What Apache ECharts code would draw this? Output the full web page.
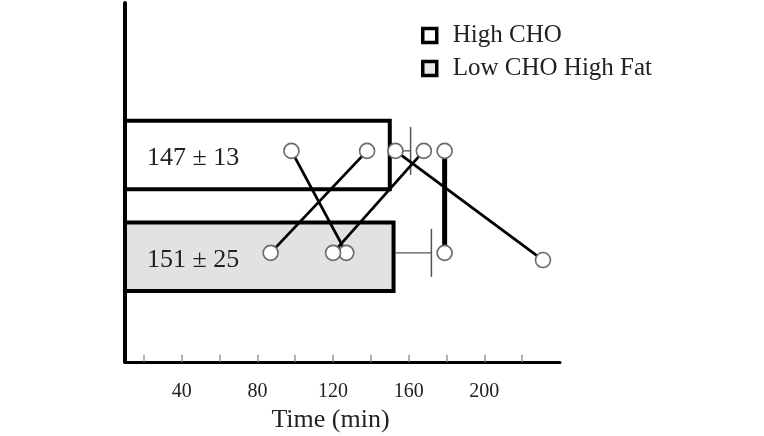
<!DOCTYPE html>
<html>
<head>
<meta charset="utf-8">
<script src="https://cdn.jsdelivr.net/npm/echarts@6/dist/echarts.min.js"></script>
<style>
html,body{margin:0;padding:0;background:#fff;}
#chart{width:764px;height:436px;}
</style>
</head>
<body>
<div id="chart"></div>
<script>
// ---- data ----
const rows = ['High CHO', 'Low CHO High Fat'];
const rowLevel = [2, 1];
const barMeans = [150, 152];
const errorEnds = [161, 172];
const barLabels = ['147 ± 13', '151 ± 25'];
const highCHO = [98, 138, 153, 168, 179];
const lowCHO = [127, 87, 231, 120, 179];
const lowLevel = [1, 1, 0.93, 1, 1];
const xTicks = [20, 40, 60, 80, 100, 120, 140, 160, 180, 200, 220];
const xLabels = [40, 80, 120, 160, 200];
const axisTitle = 'Time (min)';

// ---- styles ----
const SERIF = '"Liberation Serif", "DejaVu Serif", serif';
const barFills = ['#ffffff', '#e2e2e2'];
const thickSubject = 4;

function barSeries(i) {
  return {
    name: rows[i],
    type: 'custom',
    z: 2,
    itemStyle: { color: barFills[i], borderColor: '#000', borderWidth: 3 },
    data: [[barMeans[i], rowLevel[i], i]],
    renderItem: function (params, api) {
      const end = api.coord([api.value(0), api.value(1)]);
      const x0 = params.coordSys.x;
      const h = 68.5;
      const cy = end[1] + 4;
      const idx = api.value(2);
      return {
        type: 'group',
        children: [
          {
            type: 'rect',
            shape: { x: x0, y: cy - h / 2, width: end[0] - x0, height: h },
            style: { fill: barFills[idx], stroke: '#000', lineWidth: 4 }
          },
          {
            type: 'text',
            x: x0 + 22,
            y: cy + 3,
            style: {
              text: barLabels[idx],
              font: '26px ' + SERIF,
              fill: '#222',
              verticalAlign: 'middle'
            }
          }
        ]
      };
    }
  };
}

const series = [barSeries(0), barSeries(1)];

series.push({
  name: 'error',
  type: 'custom',
  z: 3,
  data: barMeans.map((m, i) => [m, errorEnds[i], rowLevel[i]]),
  renderItem: function (params, api) {
    const a = api.coord([api.value(0), api.value(2)]);
    const b = api.coord([api.value(1), api.value(2)]);
    const cap = 48;
    return {
      type: 'group',
      children: [
        { type: 'line', shape: { x1: a[0] + 2, y1: a[1], x2: b[0], y2: b[1] }, style: { stroke: '#555', lineWidth: 1.3 } },
        { type: 'line', shape: { x1: b[0], y1: b[1] - cap / 2, x2: b[0], y2: b[1] + cap / 2 }, style: { stroke: '#555', lineWidth: 1.5 } }
      ]
    };
  }
});

highCHO.forEach((h, i) => {
  series.push({
    name: 'subject' + (i + 1),
    type: 'line',
    z: 4,
    showSymbol: false,
    silent: true,
    lineStyle: { color: '#000', width: i === thickSubject ? 5 : 2.8 },
    data: [[h, rowLevel[0]], [lowCHO[i], lowLevel[i]]]
  });
});

const circles = highCHO.map(v => [v, rowLevel[0]]).concat(lowCHO.map((v, i) => [v, lowLevel[i]]));
series.push({
  name: 'individuals',
  type: 'scatter',
  z: 6,
  symbol: 'circle',
  symbolSize: 15,
  itemStyle: { color: '#fff', borderColor: '#6a6a6a', borderWidth: 1.6, opacity: 1 },
  data: circles
});

const chart = echarts.init(document.getElementById('chart'), null, { renderer: 'canvas' });
chart.setOption({
  animation: false,
  backgroundColor: '#fff',
  grid: { left: 125, right: 204, top: 3, bottom: 74, outerBoundsMode: 'none', containLabel: false },
  legend: {
    orient: 'vertical',
    left: 416,
    top: 18,
    itemWidth: 14,
    itemHeight: 14,
    itemGap: 8,
    selectedMode: false,
    textStyle: { fontFamily: SERIF, fontSize: 25, color: '#222', padding: [0, 0, 0, 11] },
    data: [
      { name: rows[0], icon: 'rect', itemStyle: { color: barFills[0], borderColor: '#000', borderWidth: 3.5 } },
      { name: rows[1], icon: 'rect', itemStyle: { color: '#e8e8e8', borderColor: '#000', borderWidth: 3.5 } }
    ]
  },
  xAxis: [
    {
      type: 'value',
      min: 10,
      max: 240,
      axisLine: { show: true, onZero: false, lineStyle: { color: '#000', width: 3 } },
      axisTick: { show: false },
      axisLabel: { show: false },
      splitLine: { show: false }
    },
    {
      type: 'value',
      min: 10,
      max: 240,
      position: 'bottom',
      offset: 4,
      name: axisTitle,
      nameLocation: 'middle',
      nameGap: 40,
      nameTextStyle: { fontFamily: SERIF, fontSize: 26, color: '#222', padding: [0, 24, 0, 0] },
      axisLine: { show: false },
      axisTick: { show: true, customValues: xTicks, length: 7, lineStyle: { color: '#999', width: 1.5 } },
      axisLabel: { customValues: xLabels, fontFamily: SERIF, fontSize: 20, color: '#222', margin: 16 },
      splitLine: { show: false }
    }
  ],
  yAxis: {
    type: 'value',
    min: -0.07,
    max: 3.45,
    axisLine: { show: true, onZero: false, lineStyle: { color: '#000', width: 4 } },
    axisTick: { show: false },
    axisLabel: { show: false },
    splitLine: { show: false }
  },
  series: series
});
</script>
</body>
</html>
